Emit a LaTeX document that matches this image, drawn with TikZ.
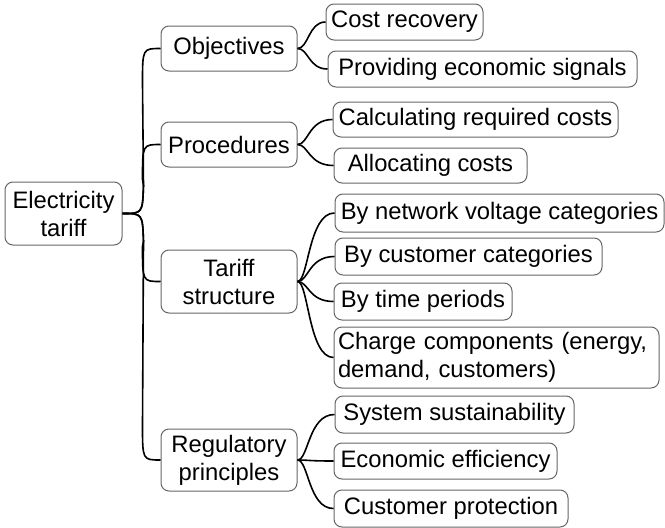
\documentclass[tikz,border=0pt]{standalone}
\usepackage{fontspec}
\setmainfont{Liberation Sans}
\usetikzlibrary{calc}
\tikzset{
  box/.style={draw=black!60, line width=1pt, rounded corners=8pt, inner sep=0pt,
    align=center, text=black, font=\fontsize{23.8}{28}\selectfont},
  conn/.style={draw=black, line width=1.6pt},
}
\newcommand{\upc}[2]{\draw[conn] (#1.east) .. controls ($(#1.east)+(20,0)$) .. ($(#1.east)+(21,-28)$) -- ($(#2.west)+(-18,35)$) .. controls ($(#2.west)+(-18,0)$) .. (#2.west);}
\newcommand{\dnc}[2]{\draw[conn] (#1.east) .. controls ($(#1.east)+(20,0)$) .. ($(#1.east)+(21,28)$) -- ($(#2.west)+(-18,-35)$) .. controls ($(#2.west)+(-18,0)$) .. (#2.west);}
\newcommand{\lvc}[2]{\draw[conn] (#1.east) .. controls ($(#1.east)+(11,0)$) and ($(#1.east |- #2.west)+(11,0)$) .. (#2.west);}
\begin{document}
\begin{tikzpicture}[x=1pt,y=-1pt]
\useasboundingbox (0,0) rectangle (665,528);
% level 1
\node[box, minimum width=117pt, minimum height=63pt] (root) at (63.5,213.5) {Electricity\\tariff};
% level 2
\node[box, minimum width=136pt, minimum height=45pt] (obj) at (229,48.5) {Objectives};
\node[box, minimum width=136pt, minimum height=45pt] (proc) at (229,144.5) {Procedures};
\node[box, minimum width=136pt, minimum height=63pt] (tar) at (229,281.5) {Tariff\\structure};
\node[box, minimum width=136pt, minimum height=62pt] (reg) at (229,460) {Regulatory\\principles};
% level 3
\node[box, minimum width=157pt, minimum height=36pt] (cost) at (404.5,22) {Cost recovery};
\node[box, minimum width=309pt, minimum height=36pt] (prov) at (482.5,69) {Providing economic signals};
\node[box, minimum width=285pt, minimum height=35pt] (calc) at (475.5,119.5) {Calculating required costs};
\node[box, minimum width=193pt, minimum height=35pt] (alloc) at (430.5,165.5) {Allocating costs};
\node[box, minimum width=329pt, minimum height=38pt] (netv) at (499.5,213) {By network voltage categories};
\node[box, minimum width=267pt, minimum height=37pt] (cust) at (468.5,256.5) {By customer categories};
\node[box, minimum width=178pt, minimum height=37pt] (time) at (423,301.5) {By time periods};
\node[box, align=left, text width=317pt, inner xsep=4pt, minimum height=61pt] (charge) at (496.5,357.5) {Charge components (energy,\\demand, customers)};
\node[box, minimum width=239pt, minimum height=37pt] (sys) at (454.5,414.5) {System sustainability};
\node[box, minimum width=223pt, minimum height=36pt] (econ) at (445.5,461) {Economic efficiency};
\node[box, minimum width=234pt, minimum height=37pt] (prot) at (451,508.5) {Customer protection};
% connectors root
\upc{root}{obj}
\upc{root}{proc}
\dnc{root}{tar}
\dnc{root}{reg}
% connectors level 3
\lvc{obj}{cost}
\lvc{obj}{prov}
\lvc{proc}{calc}
\lvc{proc}{alloc}
\lvc{tar}{netv}
\lvc{tar}{cust}
\lvc{tar}{time}
\lvc{tar}{charge}
\lvc{reg}{sys}
\lvc{reg}{econ}
\lvc{reg}{prot}
\end{tikzpicture}
\end{document}
